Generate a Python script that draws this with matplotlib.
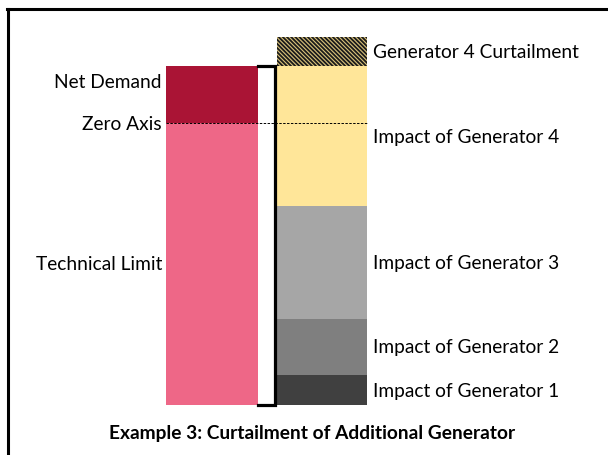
import matplotlib.pyplot as plt
from matplotlib.lines import Line2D

plt.rcParams['font.family'] = ['Lato', 'DejaVu Sans']
plt.rcParams['hatch.linewidth'] = 1.3

# stack heights (arbitrary units)
left_labels = ["Technical Limit", "Net Demand"]
left_values = [282, 57]
left_colors = ["#EE6787", "#AA1435"]

right_labels = ["Impact of Generator 1", "Impact of Generator 2",
                "Impact of Generator 3", "Impact of Generator 4",
                "Generator 4 Curtailment"]
right_values = [30, 56, 113, 140, 29]
right_colors = ["#404040", "#7F7F7F", "#A6A6A6", "#FFE699", "#D9C27A"]

title = "Example 3: Curtailment of Additional Generator"

fig = plt.figure(figsize=(6.08, 4.55), dpi=100)
ax = fig.add_axes([0, 0, 1, 1])
ax.set_xlim(0, 608)
ax.set_ylim(-50, 405)
ax.axis("off")

# left stack
bottom = 0
for val, col in zip(left_values, left_colors):
    ax.bar(212, val, width=92, bottom=bottom, color=col, linewidth=0)
    bottom += val
zero = left_values[0]

# right stack
bottom = 0
for i, (val, col) in enumerate(zip(right_values, right_colors)):
    if i == len(right_values) - 1:
        ax.bar(322, val, width=90, bottom=bottom, color=col, edgecolor="#1a1a1a",
               hatch="\\\\\\\\\\\\\\\\", linewidth=0)
    else:
        ax.bar(322, val, width=90, bottom=bottom, color=col, linewidth=0)
    bottom += val
total = sum(right_values[:-1])

# zero axis dashed line
ax.plot([166, 367], [zero, zero], color="black", lw=0.7, ls=(0, (2.5, 1.5)))

# bracket
ax.plot([258, 275, 275, 258], [total, total, 0, 0], color="black", lw=2.3,
        solid_joinstyle="miter")

fs = 13.8
dy = -1  # nudge text to sit like the reference
ax.text(162, zero + left_values[1] - 16, "Net Demand", ha="right", va="center", fontsize=fs)
ax.text(162, zero - 1, "Zero Axis", ha="right", va="center", fontsize=fs)
ax.text(162, left_values[0] / 2 + dy, "Technical Limit", ha="right", va="center", fontsize=fs)

bottom = 0
for lab, val in zip(right_labels, right_values):
    ax.text(373, bottom + val / 2 + dy, lab, ha="left", va="center", fontsize=fs)
    bottom += val

ax.text(312, -29, title, ha="center", va="center", fontsize=fs, fontweight="bold")

# frame of the screenshot
fig.add_artist(Line2D([8 / 608, 8 / 608], [0, 1 - 9 / 455], color="black", lw=2.2))
fig.add_artist(Line2D([6.5 / 608, 1], [1 - 9 / 455, 1 - 9 / 455], color="black", lw=2.2))

fig.savefig("out.png", dpi=100)
